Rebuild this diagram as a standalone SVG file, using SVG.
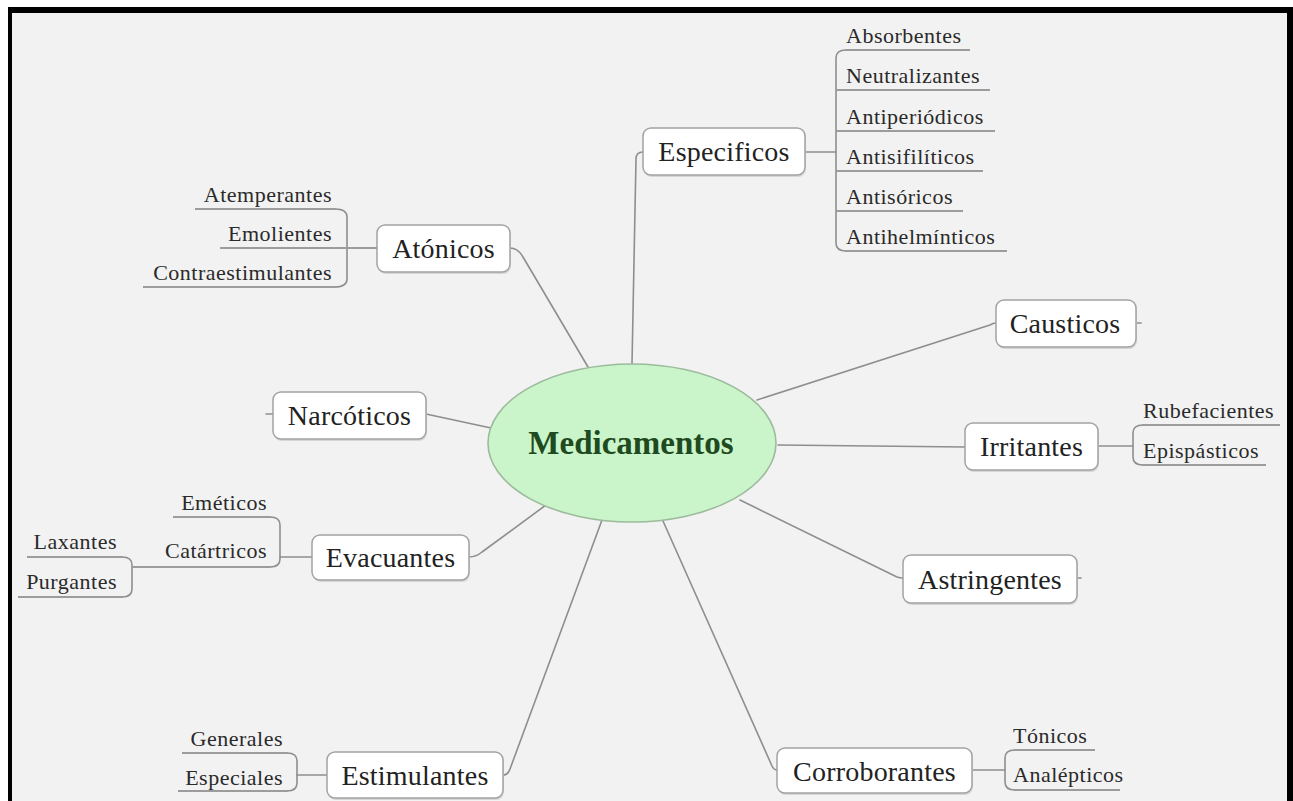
<svg xmlns="http://www.w3.org/2000/svg" width="1293" height="801" viewBox="0 0 1293 801">
  <style>
    .conn { fill: none; stroke: #8e8e8e; stroke-width: 1.6; stroke-linecap: round; stroke-linejoin: round; }
    .ul { fill: none; stroke: #9c9c9c; stroke-width: 2; }
    .box { fill: #ffffff; stroke: #a3a3a3; stroke-width: 1.5; }
    .shadow { fill: #d6d6d6; }
    .lbl { font-family: "Liberation Serif", "Times New Roman", serif; font-size: 28px; fill: #222222; text-anchor: middle; letter-spacing: 0.2px; }
    .sub { font-family: "Liberation Serif", "Times New Roman", serif; font-size: 22px; fill: #2a2a2a; letter-spacing: 0.5px; }
    .end { text-anchor: end; }
    .root { font-family: "Liberation Serif", "Times New Roman", serif; font-size: 33px; font-weight: bold; fill: #1f4a1f; text-anchor: middle; }
  </style>

  <!-- frame and canvas -->
  <rect x="0" y="0" width="1293" height="801" fill="#ffffff"/>
  <rect x="8" y="7" width="1285" height="794" fill="#000000"/>
  <rect x="12" y="13" width="1275" height="788" fill="#f2f2f2"/>

  <!-- connectors and brackets -->
  <g id="connectors">
    <path class="conn" d="M632 364 L636 159 Q636 152 643 152"/>
    <path class="conn" d="M510 248 Q518 248 523 257 L588 367"/>
    <path class="conn" d="M757 400 L990 325 Q993 323 996 323"/>
    <path class="conn" d="M778 445 L965 447"/>
    <path class="conn" d="M426 414 L491 428"/>
    <path class="conn" d="M469 557 Q476 557 482 552 L546 505"/>
    <path class="conn" d="M740 500 L897 577 Q900 578 903 578"/>
    <path class="conn" d="M503 775 Q508 775 510 769 L602 520"/>
    <path class="conn" d="M663 521 L772 766 Q774 770 777 770"/>
    <!-- collapsed stubs -->
    <path class="conn" d="M1136 323 L1141 323"/>
    <path class="conn" d="M266 414 L273 414"/>
    <path class="conn" d="M1077 578 L1081 578"/>
    <!-- Especificos bracket -->
    <path class="conn" d="M805 152 L836 152"/>
    <path class="conn" d="M846 50 Q836 50 836 58 L836 243 Q836 251 846 251"/>
    <!-- Atonicos bracket -->
    <path class="conn" d="M335 209 Q347 209 347 217 L347 279 Q347 287 335 287"/>
    <!-- Irritantes bracket -->
    <path class="conn" d="M1098 446 L1133 446"/>
    <path class="conn" d="M1143 425 Q1133 425 1133 433 L1133 457 Q1133 465 1143 465"/>
    <!-- Evacuantes bracket -->
    <path class="conn" d="M280 557 L312 557"/>
    <path class="conn" d="M270 517 Q280 517 280 525 L280 559 Q280 567 270 567"/>
    <!-- Catartricos bracket -->
    <path class="conn" d="M122 557 Q132 557 132 565 L132 589 Q132 597 122 597"/>
    <!-- Estimulantes bracket -->
    <path class="conn" d="M297 775 L327 775"/>
    <path class="conn" d="M287 753 Q297 753 297 761 L297 783 Q297 791 287 791"/>
    <!-- Corroborantes bracket -->
    <path class="conn" d="M972 770 L1005 770"/>
    <path class="conn" d="M1015 750 Q1005 750 1005 758 L1005 782 Q1005 790 1015 790"/>
  </g>

  <!-- central topic -->
  <g id="medicamentos">
    <ellipse cx="632" cy="443" rx="144" ry="79" fill="#caf5ca" stroke="#9cba9c" stroke-width="1.6"/>
    <text class="root" x="631" y="454">Medicamentos</text>
  </g>

  <!-- main topics -->
  <g id="especificos">
    <rect class="shadow" x="644" y="130" width="162" height="47" rx="8"/>
    <rect class="box" x="643" y="128" width="162" height="47" rx="8"/>
    <text class="lbl" x="724" y="161">Especificos</text>
  </g>
  <g id="atonicos">
    <rect class="shadow" x="378" y="227" width="133" height="47" rx="8"/>
    <rect class="box" x="377" y="225" width="133" height="47" rx="8"/>
    <text class="lbl" x="443.5" y="258">Atónicos</text>
  </g>
  <g id="causticos">
    <rect class="shadow" x="997" y="302" width="140" height="47" rx="8"/>
    <rect class="box" x="996" y="300" width="140" height="47" rx="8"/>
    <text class="lbl" x="1065" y="333">Causticos</text>
  </g>
  <g id="irritantes">
    <rect class="shadow" x="966" y="425" width="133" height="47" rx="8"/>
    <rect class="box" x="965" y="423" width="133" height="47" rx="8"/>
    <text class="lbl" x="1031.5" y="456">Irritantes</text>
  </g>
  <g id="narcoticos">
    <rect class="shadow" x="274" y="394" width="153" height="47" rx="8"/>
    <rect class="box" x="273" y="392" width="153" height="47" rx="8"/>
    <text class="lbl" x="349.5" y="425">Narcóticos</text>
  </g>
  <g id="evacuantes">
    <rect class="shadow" x="313" y="537" width="157" height="45" rx="8"/>
    <rect class="box" x="312" y="535" width="157" height="45" rx="8"/>
    <text class="lbl" x="390.5" y="567">Evacuantes</text>
  </g>
  <g id="astringentes">
    <rect class="shadow" x="904" y="557" width="174" height="48" rx="8"/>
    <rect class="box" x="903" y="555" width="174" height="48" rx="8"/>
    <text class="lbl" x="990" y="589">Astringentes</text>
  </g>
  <g id="estimulantes">
    <rect class="shadow" x="328" y="754" width="176" height="46" rx="8"/>
    <rect class="box" x="327" y="752" width="176" height="46" rx="8"/>
    <text class="lbl" x="415" y="785">Estimulantes</text>
  </g>
  <g id="corroborantes">
    <rect class="shadow" x="778" y="750" width="195" height="45" rx="8"/>
    <rect class="box" x="777" y="748" width="195" height="45" rx="8"/>
    <text class="lbl" x="874.5" y="781">Corroborantes</text>
  </g>

  <!-- Especificos subtopics -->
  <g id="absorbentes"><text class="sub" x="846" y="43">Absorbentes</text><path class="ul" d="M845 50 L970 50"/></g>
  <g id="neutralizantes"><text class="sub" x="846" y="83">Neutralizantes</text><path class="ul" d="M836 90 L990 90"/></g>
  <g id="antiperiodicos"><text class="sub" x="846" y="124">Antiperiódicos</text><path class="ul" d="M836 131 L995 131"/></g>
  <g id="antisifiliticos"><text class="sub" x="846" y="164">Antisifilíticos</text><path class="ul" d="M836 171 L983 171"/></g>
  <g id="antisoricos"><text class="sub" x="846" y="204">Antisóricos</text><path class="ul" d="M836 211 L963 211"/></g>
  <g id="antihelminticos"><text class="sub" x="846" y="244">Antihelmínticos</text><path class="ul" d="M845 251 L1007 251"/></g>

  <!-- Atonicos subtopics -->
  <g id="atemperantes"><text class="sub end" x="332" y="202">Atemperantes</text><path class="ul" d="M195 209 L336 209"/></g>
  <g id="emolientes"><text class="sub end" x="332" y="241">Emolientes</text><path class="ul" d="M220 248 L377 248"/></g>
  <g id="contraestimulantes"><text class="sub end" x="332" y="280">Contraestimulantes</text><path class="ul" d="M143 287 L336 287"/></g>

  <!-- Irritantes subtopics -->
  <g id="rubefacientes"><text class="sub" x="1143" y="418">Rubefacientes</text><path class="ul" d="M1142 425 L1280 425"/></g>
  <g id="epispasticos"><text class="sub" x="1143" y="458">Epispásticos</text><path class="ul" d="M1142 465 L1266 465"/></g>

  <!-- Evacuantes subtopics -->
  <g id="emeticos"><text class="sub end" x="267" y="510">Eméticos</text><path class="ul" d="M173 517 L271 517"/></g>
  <g id="catartricos"><text class="sub end" x="267" y="558">Catártricos</text><path class="ul" d="M132 567 L271 567"/></g>
  <g id="laxantes"><text class="sub end" x="117" y="549">Laxantes</text><path class="ul" d="M27 557 L123 557"/></g>
  <g id="purgantes"><text class="sub end" x="117" y="589">Purgantes</text><path class="ul" d="M18 597 L123 597"/></g>

  <!-- Estimulantes subtopics -->
  <g id="generales"><text class="sub end" x="283" y="746">Generales</text><path class="ul" d="M182 753 L288 753"/></g>
  <g id="especiales"><text class="sub end" x="283" y="785">Especiales</text><path class="ul" d="M178 791 L288 791"/></g>

  <!-- Corroborantes subtopics -->
  <g id="tonicos"><text class="sub" x="1013" y="743">Tónicos</text><path class="ul" d="M1014 750 L1095 750"/></g>
  <g id="analepticos"><text class="sub" x="1013" y="782">Analépticos</text><path class="ul" d="M1014 790 L1120 790"/></g>
</svg>
